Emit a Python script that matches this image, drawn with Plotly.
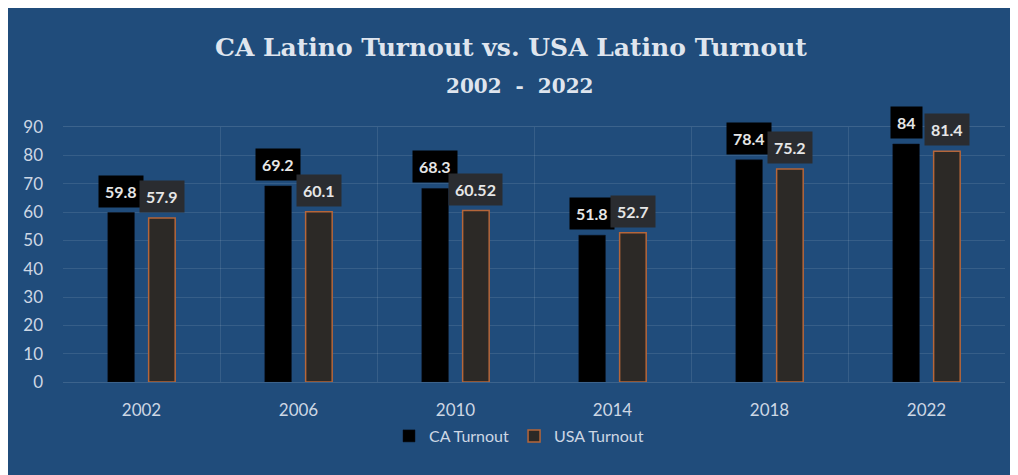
import plotly.graph_objects as go

years = ["2002", "2006", "2010", "2014", "2018", "2022"]
ca_turnout = [59.8, 69.2, 68.3, 51.8, 78.4, 84]
usa_turnout = [57.9, 60.1, 60.52, 52.7, 75.2, 81.4]
ca_labels = ["59.8", "69.2", "68.3", "51.8", "78.4", "84"]
usa_labels = ["57.9", "60.1", "60.52", "52.7", "75.2", "81.4"]

W, H = 1018, 475
ML, MR, MT, MB = 55, 21, 119, 101
BG = "#204c7b"
TXT = "#cdd7e4"
BARGAP = 0.48
GROUPGAP = 0.35

fig = go.Figure()
fig.add_trace(go.Bar(
    name="CA Turnout", x=years, y=ca_turnout,
    marker=dict(color="#000000", line=dict(color="#0a0f18", width=0.5)),
    hoverinfo="skip",
))
fig.add_trace(go.Bar(
    name="USA Turnout", x=years, y=usa_turnout,
    marker=dict(color="#2c2926", line=dict(color="#b5663a", width=1.5)),
    hoverinfo="skip",
))

slot = (1 - BARGAP) / 2
annotations = []
for i in range(len(years)):
    for vals, labs, sign, box in ((ca_turnout, ca_labels, -1, "#000000"),
                                  (usa_turnout, usa_labels, 1, "#2a2c30")):
        annotations.append(dict(
            x=i + sign * slot / 2, y=vals[i], xref="x", yref="y",
            text=labs[i], showarrow=False, yanchor="bottom", xanchor="center",
            yshift=5, bgcolor=box, borderpad=6,
            font=dict(family="Lato", size=16, color="#e6e6e6", weight="bold"),
        ))

pw = W - ML - MR
ph = H - MT - MB
annotations.append(dict(
    x=(503 - ML) / pw, y=(H - MB - 39) / ph, xref="paper", yref="paper",
    text="CA Latino Turnout vs. USA Latino Turnout", showarrow=False,
    xanchor="center", yanchor="middle",
    font=dict(family="DejaVu Serif", size=25, color="#dfe5ee", weight="bold"),
))
annotations.append(dict(
    x=(511 - ML) / pw, y=(H - MB - 78) / ph, xref="paper", yref="paper",
    text="2002&nbsp; -&nbsp; 2022", showarrow=False, xanchor="center", yanchor="middle",
    font=dict(family="DejaVu Serif", size=20, color="#dfe5ee", weight="bold"),
))

fig.update_layout(
    width=W, height=H,
    margin=dict(l=ML, r=MR, t=MT, b=MB, autoexpand=False),
    paper_bgcolor=BG, plot_bgcolor=BG,
    barmode="group", bargap=BARGAP, bargroupgap=GROUPGAP,
    showlegend=True,
    legend=dict(orientation="h", x=(511 - ML) / pw, y=(H - MB - 428) / ph,
                xanchor="center", yanchor="middle",
                font=dict(family="Lato", size=16, color=TXT),
                bgcolor="rgba(0,0,0,0)", itemwidth=30),
    annotations=annotations,
    font=dict(family="Lato", color=TXT),
)
fig.update_xaxes(
    type="category", tickson="boundaries", showgrid=True,
    gridcolor="rgba(255,255,255,0.10)", gridwidth=1,
    showline=True, linecolor="rgba(255,255,255,0.13)", mirror=True,
    ticks="", tickfont=dict(family="Lato", size=17, color=TXT),
    ticklabelstandoff=13, automargin=False,
)
fig.update_yaxes(
    range=[0, 90], dtick=10, showgrid=True,
    gridcolor="rgba(255,255,255,0.10)", gridwidth=1, zeroline=False,
    showline=False, ticks="",
    tickfont=dict(family="Lato", size=17, color=TXT),
    ticklabelstandoff=19, automargin=False,
)

fig.write_html("out.html")
